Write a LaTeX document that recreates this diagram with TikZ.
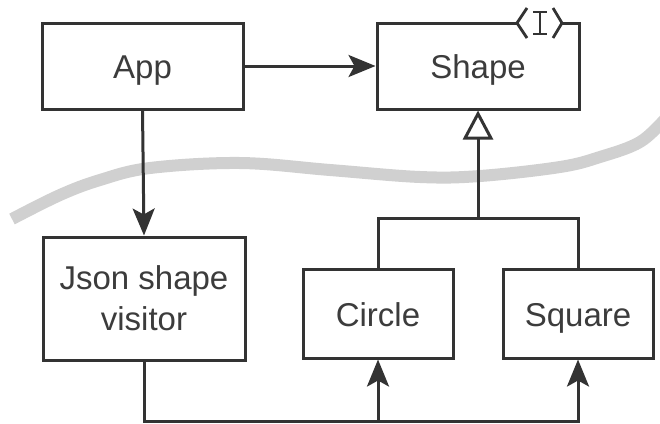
\documentclass[tikz,border=0pt]{standalone}
\usepackage{fontspec}
\setmainfont{Liberation Sans}
\usetikzlibrary{arrows.meta}
\definecolor{ink}{HTML}{333333}
\definecolor{txt}{HTML}{3C3C3C}
\definecolor{bandgray}{HTML}{D0D0D0}
\begin{document}
\begin{tikzpicture}[x=1pt,y=-1pt,
  box/.style={draw=ink,line width=3pt,fill=white,rectangle,inner sep=0pt,
    text=txt,font=\fontsize{33}{41}\selectfont,align=center,text depth=0pt},
  conn/.style={draw=ink,line width=3pt},
  arr/.style={conn,-{Stealth[length=27pt,width=22pt,inset=6pt]}},
  inh/.style={conn,-{Triangle[open,length=29pt,width=30pt,fill=white]}},
  band/.style={draw=bandgray,line width=12pt}]
\useasboundingbox (0,0) rectangle (660,423);
% separator band
\draw[band] plot[smooth,tension=0.6] coordinates {(12,219) (60,195) (100,180) (150,168) (240,163) (330,170) (420,177) (480,176) (560,167) (600,157) (640,142) (666,118)};
% boxes
\node[box,minimum width=201pt,minimum height=86pt] (app) at (142.5,66) {\raisebox{-2pt}{App}};
\node[box,minimum width=202pt,minimum height=86pt] (shape) at (478,66) {\raisebox{-2pt}{Shape}};
\node[box,minimum width=202pt,minimum height=123pt] (jsv) at (144,298.5) {Json shape\\visitor};
\node[box,minimum width=150pt,minimum height=89pt] (circ) at (378,313.5) {\raisebox{-2pt}{Circle}};
\node[box,minimum width=150pt,minimum height=89pt] (sq) at (578,313.5) {\raisebox{-2pt}{Square}};
% interface marker
\fill[white] (518,19) rectangle (561,27);
\draw[ink,line width=2.8pt,line join=miter] (527,8) -- (517,23) -- (527,38);
\draw[ink,line width=2.8pt,line join=miter] (553,8) -- (562,23) -- (553,38);
\draw[ink,line width=2.6pt] (540,12) -- (540,34) (533,12) -- (547,12) (533,34) -- (547,34);
% connectors
\draw[arr] (app.east) -- (shape.west);
\draw[arr] (app.south) -- (jsv.north);
\coordinate (junc) at (478,218);
\coordinate (bus) at (0,421);
\draw[conn] (circ.north) |- (junc) -| (sq.north);
\draw[inh] (junc) -- (shape.south);
\draw[arr] (jsv.south) |- (sq.south |- bus) -- (sq.south);
\draw[arr] (circ.south |- bus) -- (circ.south);
\end{tikzpicture}
\end{document}
